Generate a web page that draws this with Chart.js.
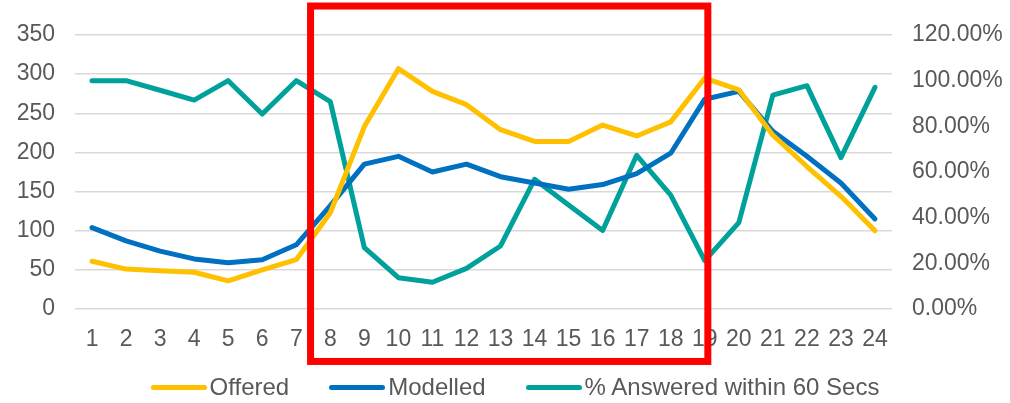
<!DOCTYPE html>
<html>
<head>
<meta charset="utf-8">
<script src="https://cdn.jsdelivr.net/npm/chart.js@4"></script>
<style>
    html, body { margin: 0; padding: 0; background: #fff; }
    #wrap { position: relative; width: 1010px; height: 403px; }
    #legend {
        position: absolute; left: 10px; top: 373px; width: 1010px; height: 28px;
        display: flex; justify-content: center; align-items: center;
        font-family: 'Liberation Sans', Arial, sans-serif; font-size: 24px; color: #595959;
    }
    .item { display: flex; align-items: center; margin: 0 20px; }
    .swatch { width: 56px; height: 5px; border-radius: 3px; margin-right: 3px; }
</style>
</head>
<body>
<div id="wrap">
    <canvas id="chart" width="1010" height="403"></canvas>
    <div id="legend"></div>
</div>
<script>
// Hour of day
const hours = ['1','2','3','4','5','6','7','8','9','10','11','12','13','14','15','16','17','18','19','20','21','22','23','24'];

// Calls offered / modelled (left axis)
const offered  = [61, 51, 49, 47, 36, 50, 63, 123, 233, 307, 278, 261, 229, 214, 214, 235, 221, 239, 295, 280, 222, 182, 144, 100];
const modelled = [104, 87, 74, 64, 59, 63, 82, 132, 185, 195, 175, 185, 169, 161, 153, 159, 173, 199, 268, 278, 227, 195, 161, 115];

// % answered within 60 secs (right axis)
const answered = [100, 100, 95.8, 91.5, 100, 85.4, 100, 90.8, 26.9, 13.7, 11.7, 17.8, 27.6, 56.8, 45.5, 34.4, 67.3, 49.9, 21.2, 37.8, 93.7, 97.8, 66.3, 97.1];

// Series names
const seriesNames = ['Offered', 'Modelled', '% Answered within 60 Secs'];

const colors = {
    offered: '#FFC000',
    modelled: '#0070C0',
    answered: '#00A19A',
    text: '#595959',
    grid: '#D9D9D9',
    box: '#FF0000'
};

// highlighted hour range (red box), in hour units / left-axis units
const highlight = { fromHour: 7.42, toHour: 19.09, top: 387, bottom: -67 };

const font = { family: "'Liberation Sans', Arial, sans-serif", size: 23 };

const boxPlugin = {
    id: 'highlightBox',
    afterDraw(chart) {
        const { ctx, scales: { x, y } } = chart;
        const left = x.getPixelForValue(highlight.fromHour - 1);
        const right = x.getPixelForValue(highlight.toHour - 1);
        const top = y.getPixelForValue(highlight.top);
        const bottom = y.getPixelForValue(highlight.bottom);
        ctx.save();
        ctx.strokeStyle = colors.box;
        ctx.lineWidth = 7;
        ctx.lineJoin = 'miter';
        ctx.strokeRect(left, top, right - left, bottom - top);
        ctx.restore();
    }
};

function lineSet(label, data, color, axis) {
    return {
        label: label,
        data: data,
        yAxisID: axis,
        borderColor: color,
        backgroundColor: color,
        borderWidth: 5,
        borderJoinStyle: 'round',
        borderCapStyle: 'round',
        pointRadius: 0,
        tension: 0,
        fill: false
    };
}

const ctx = document.getElementById('chart').getContext('2d');
const chart = new Chart(ctx, {
    type: 'line',
    data: {
        labels: hours,
        datasets: [
            lineSet(seriesNames[0], offered, colors.offered, 'y'),
            lineSet(seriesNames[1], modelled, colors.modelled, 'y'),
            lineSet(seriesNames[2], answered, colors.answered, 'y1')
        ]
    },
    options: {
        responsive: false,
        animation: false,
        events: [],
        layout: { padding: { top: 35, bottom: 0, left: 0, right: 0 } },
        scales: {
            x: {
                offset: true,
                grid: { display: false, drawTicks: false },
                border: { display: false },
                ticks: { color: colors.text, font: font, padding: 17, maxRotation: 0, autoSkip: false },
                afterFit(scale) { scale.height = 94; }
            },
            y: {
                position: 'left',
                min: 0,
                max: 350,
                ticks: { stepSize: 50, color: colors.text, font: font, padding: 20 },
                grid: { color: colors.grid, lineWidth: 1.5, drawTicks: false },
                border: { display: false },
                afterFit(scale) { scale.width = 75; }
            },
            y1: {
                position: 'right',
                min: 0,
                max: 120,
                ticks: {
                    stepSize: 20, color: colors.text, font: font, padding: 20,
                    callback: v => v.toFixed(2) + '%'
                },
                grid: { drawOnChartArea: false, drawTicks: false },
                border: { display: false },
                afterFit(scale) { scale.width = 118; }
            }
        },
        plugins: {
            legend: { display: false },
            tooltip: { enabled: false }
        }
    },
    plugins: [boxPlugin]
});

// legend built from the datasets
const legend = document.getElementById('legend');
chart.data.datasets.forEach(ds => {
    const item = document.createElement('div');
    item.className = 'item';
    const sw = document.createElement('span');
    sw.className = 'swatch';
    sw.style.background = ds.borderColor;
    const txt = document.createElement('span');
    txt.textContent = ds.label;
    item.appendChild(sw);
    item.appendChild(txt);
    legend.appendChild(item);
});
</script>
</body>
</html>
